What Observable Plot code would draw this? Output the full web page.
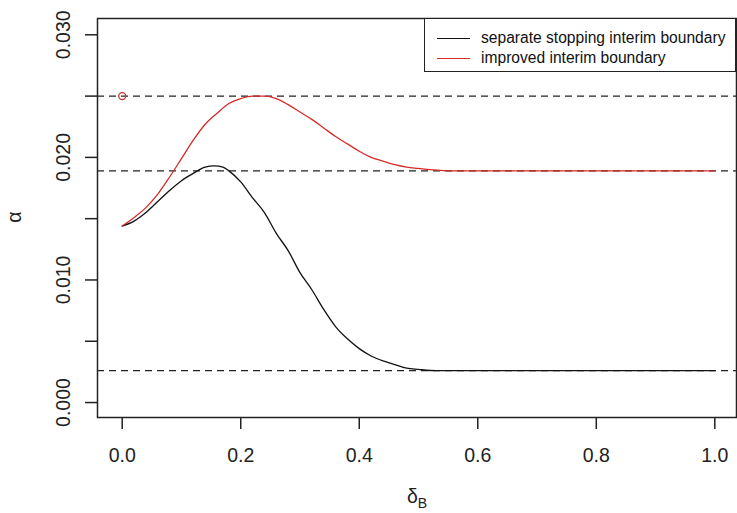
<!DOCTYPE html>
<html><head><meta charset="utf-8">
<script src="https://cdn.jsdelivr.net/npm/d3@7"></script>
<script src="https://cdn.jsdelivr.net/npm/@observablehq/plot@0.6"></script>
<style>
body{margin:0;background:#fff;}
#wrap{position:relative;width:737px;height:513px;font-family:"Liberation Sans",Arial,sans-serif;}
#legend{position:absolute;left:424px;top:18px;width:312px;height:54px;border:1.3px solid #222;background:#fff;box-sizing:border-box;font-size:15.6px;color:#111;}
.sw{position:absolute;left:12px;width:33px;height:0;}
.lt{position:absolute;left:56px;line-height:18px;white-space:nowrap;}
</style></head><body>
<div id="wrap"><div id="legend"></div></div>
<script>
// black curve: separate stopping interim boundary
const separateDelta = [0.00,0.02,0.04,0.06,0.08,0.10,0.12,0.14,0.155,0.17,0.18,0.20,0.22,0.24,0.26,0.28,0.30,0.32,0.34,0.36,0.38,0.40,0.42,0.44,0.46,0.48,0.50,0.53,1.00];
const separateAlpha = [0.0144,0.0148,0.0155,0.0164,0.0173,0.0181,0.0187,0.0192,0.0193,0.0192,0.0189,0.0180,0.0167,0.0155,0.0138,0.0124,0.0106,0.0092,0.0076,0.0062,0.0052,0.0044,0.0038,0.0034,0.0031,0.0028,0.0027,0.0026,0.0026];
// red curve: improved interim boundary
const improvedDelta = [0.00,0.02,0.04,0.06,0.08,0.10,0.12,0.14,0.16,0.18,0.20,0.22,0.24,0.26,0.28,0.30,0.32,0.34,0.36,0.38,0.40,0.42,0.44,0.46,0.48,0.50,0.52,0.56,1.00];
const improvedAlpha = [0.0144,0.0151,0.0159,0.0170,0.0184,0.0199,0.0214,0.0227,0.0236,0.0244,0.0248,0.0250,0.0250,0.0248,0.0243,0.0237,0.0231,0.0224,0.0217,0.0211,0.0205,0.0200,0.0197,0.0194,0.0192,0.0191,0.0190,0.0189,0.0189];
// horizontal dashed reference lines
const refAlpha = [0.025, 0.0189, 0.0026];
// single open circle
const pointDelta = [0];
const pointAlpha = [0.025];
// axes
const xTicks = [0, 0.2, 0.4, 0.6, 0.8, 1.0];
const yTicks = [0, 0.005, 0.010, 0.015, 0.020, 0.025, 0.030];
const yLabelTicks = [0, 0.010, 0.020, 0.030];
const legendLabels = ["separate stopping interim boundary", "improved interim boundary"];
const legendColors = ["#111111", "#d42a2a"];

const separate = separateDelta.map((d, i) => ({x: d, y: separateAlpha[i]}));
const improved = improvedDelta.map((d, i) => ({x: d, y: improvedAlpha[i]}));
const points = pointDelta.map((d, i) => ({x: d, y: pointAlpha[i]}));

const chart = Plot.plot({
  width: 737, height: 513,
  marginLeft: 97, marginRight: 1, marginTop: 18, marginBottom: 96,
  style: {fontFamily: '"Liberation Sans", Arial, sans-serif', fontSize: "19.5px", background: "#fff", color: "#222"},
  x: {domain: [-0.0417, 1.0366]},
  y: {domain: [-0.00122, 0.03133]},
  marks: [
    Plot.ruleY(refAlpha, {stroke: "#222", strokeDasharray: "7,5", strokeWidth: 1.4}),
    Plot.line(separate, {x: "x", y: "y", stroke: legendColors[0], strokeWidth: 1.3, curve: "monotone-x"}),
    Plot.line(improved, {x: "x", y: "y", stroke: legendColors[1], strokeWidth: 1.3, curve: "monotone-x"}),
    Plot.dot(points, {x: "x", y: "y", r: 3.5, stroke: "#c83434", fill: "none", strokeWidth: 1.3}),
    Plot.frame({stroke: "#222", strokeWidth: 1.5}),
    Plot.axisX({ticks: xTicks, tickSize: 12, tickPadding: 19, tickFormat: d3.format(".1f"), label: null, strokeWidth: 1.5, color: "#222"}),
    Plot.axisY({ticks: yTicks, tickSize: 12, tickFormat: () => "", label: null, strokeWidth: 1.5, color: "#222"}),
    Plot.text(yLabelTicks, {y: d => d, text: d3.format(".3f"), frameAnchor: "left", dx: -34, rotate: -90, textAnchor: "middle", lineAnchor: "middle", fill: "#222"})
  ]
});
document.getElementById("wrap").insertBefore(chart, document.getElementById("legend"));

const svg = d3.select(chart);
// x axis title: delta_B
const xt = svg.append("text").attr("x", 417).attr("y", 503).attr("text-anchor", "middle").attr("fill", "#222").style("font-size", "19.5px");
xt.append("tspan").text("δ");
xt.append("tspan").attr("dy", 5).style("font-size", "14px").text("B");
// y axis title: alpha
svg.append("text").attr("transform", "translate(21,217) rotate(-90)").attr("text-anchor", "middle").attr("fill", "#222").style("font-size", "19.5px").text("α");

// legend
const leg = d3.select("#legend");
legendLabels.forEach((lab, i) => {
  const cy = 19 + i * 20;
  leg.append("div").attr("class", "sw").style("top", cy + "px").style("border-top", "1.4px solid " + legendColors[i]);
  leg.append("div").attr("class", "lt").style("top", (cy - 9) + "px").text(lab);
});
</script>
</body></html>
